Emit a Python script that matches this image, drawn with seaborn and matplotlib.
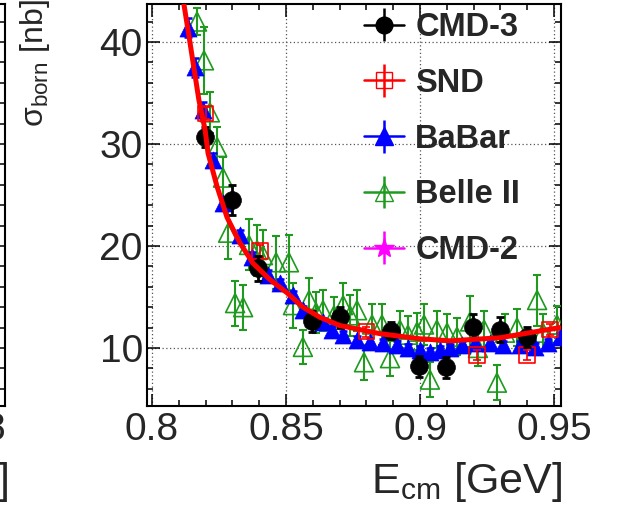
import numpy as np
import pandas as pd
import matplotlib
matplotlib.use("Agg")
import matplotlib.pyplot as plt
import seaborn as sns
from matplotlib.ticker import MultipleLocator, FixedLocator
from matplotlib.font_manager import FontProperties

# ---------------- data ----------------
fit_x = [0.8119, 0.8136, 0.8175, 0.8198, 0.8209, 0.8243, 0.8280, 0.8328, 0.8377,
         0.8440, 0.8504, 0.8563, 0.8627, 0.8701, 0.8851, 0.9000, 0.9112, 0.9299, 0.9522]
fit_y = [43.7, 40.9, 34.3, 31.4, 29.1, 25.8, 22.8, 20.3, 18.3,
         16.7, 15.4, 14.0, 13.0, 12.2, 11.4, 10.9, 10.7, 11.0, 12.0]

cmd3_x = [0.8198, 0.8299, 0.8396, 0.8597, 0.8701, 0.8892, 0.8996, 0.9097, 0.9198, 0.9299, 0.9399]
cmd3_y = [30.7, 24.5, 17.8, 12.6, 13.0, 11.7, 8.2, 8.1, 12.1, 11.8, 11.1]
cmd3_e = [1.0, 1.5, 1.2, 1.0, 1.0, 0.8, 1.0, 1.0, 1.2, 1.2, 1.0]

snd_x = [0.8201, 0.8403, 0.8799, 0.9213, 0.9399, 0.9485]
snd_y = [33.0, 19.5, 11.6, 9.3, 9.3, 11.8]
snd_e = [0.6, 0.6, 0.5, 0.5, 0.5, 0.5]

babar_x = [0.8134, 0.8160, 0.8190, 0.8228, 0.8265, 0.8328, 0.8373, 0.8403, 0.8433, 0.8478,
           0.8526, 0.8563, 0.8601, 0.8638, 0.8672, 0.8713, 0.8765, 0.8813, 0.8862, 0.8914,
           0.8955, 0.9000, 0.9037, 0.9075, 0.9112, 0.9157, 0.9205, 0.9261, 0.9310, 0.9373,
           0.9429, 0.9478, 0.9522]
babar_y = [41.4, 37.5, 33.3, 28.4, 24.2, 21.1, 18.9, 18.0, 17.2, 16.4,
           15.2, 13.7, 12.9, 12.5, 11.8, 11.3, 10.8, 10.6, 10.5, 10.3,
           10.0, 9.8, 9.6, 9.8, 10.0, 10.3, 10.5, 10.5, 10.3, 10.3,
           10.1, 10.5, 11.1]
babar_e = [0.9, 0.9, 0.8, 0.7, 0.6, 0.5, 0.5, 0.4, 0.4, 0.4,
           0.4, 0.4, 0.4, 0.4, 0.4, 0.4, 0.4, 0.4, 0.4, 0.4,
           0.4, 0.4, 0.4, 0.4, 0.4, 0.4, 0.4, 0.4, 0.4, 0.4,
           0.4, 0.4, 0.4]

belle_x = [0.8168, 0.8194, 0.8216, 0.8243, 0.8265, 0.8284, 0.8310, 0.8340, 0.8362, 0.8392,
           0.8414, 0.8463, 0.8511, 0.8526, 0.8563, 0.8586, 0.8612, 0.8638, 0.8679, 0.8713,
           0.8739, 0.8765, 0.8791, 0.8821, 0.8858, 0.8888, 0.8925, 0.8955, 0.8989, 0.9015,
           0.9037, 0.9063, 0.9101, 0.9138, 0.9187, 0.9216, 0.9239, 0.9287, 0.9317, 0.9362,
           0.9437, 0.9459, 0.9511]
belle_y = [42.0, 38.2, 33.1, 29.7, 26.7, 21.3, 14.4, 14.0, 20.1, 19.6,
           19.1, 18.4, 18.4, 14.2, 10.1, 14.7, 13.5, 13.7, 13.2, 14.2,
           13.2, 13.7, 8.6, 12.3, 12.3, 9.0, 11.8, 11.3, 11.6, 12.3,
           6.9, 11.8, 11.5, 11.1, 12.6, 10.0, 11.8, 6.6, 11.5, 12.0,
           14.7, 11.5, 12.3]
belle_e = [1.3, 3.3, 2.0, 2.0, 2.0, 2.6, 2.2, 2.2, 2.5, 2.5,
           2.5, 2.6, 2.7, 2.2, 1.7, 2.2, 2.0, 2.0, 1.8, 2.2,
           2.0, 2.0, 1.7, 2.0, 2.0, 1.7, 1.8, 1.8, 1.8, 2.0,
           1.7, 1.8, 1.8, 1.8, 2.5, 1.8, 1.8, 1.7, 1.8, 1.8,
           2.5, 1.8, 1.8]

cmd2_x = []
cmd2_y = []
cmd2_e = []

# neighbouring (cropped) panel: tail of its fit curve
left_fit_x = [0.7780, 0.7800]
left_fit_y = [9.7, 9.6]

legend_labels = ["CMD-3", "SND", "BaBar", "Belle II", "CMD-2"]
x_major = [0.80, 0.85, 0.90, 0.95]
x_labels = ["0.8", "0.85", "0.9", "0.95"]
y_major = [10, 20, 30, 40]
left_x_major = [0.68, 0.73, 0.78]
left_x_labels = ["0.68", "0.73", "0.78"]

# ---------------- style ----------------
sns.set_style("ticks")
plt.rcParams['font.family'] = ['Liberation Sans', 'DejaVu Sans']
plt.rcParams['mathtext.fontset'] = 'custom'
plt.rcParams['mathtext.rm'] = 'Liberation Sans'
plt.rcParams['mathtext.it'] = 'Liberation Sans:italic'
plt.rcParams['mathtext.bf'] = 'Liberation Sans:bold'

W, H = 623, 513
fig = plt.figure(figsize=(W / 100, H / 100), dpi=100)


def rect(l, t, r, b):
    return [l / W, 1 - b / H, (r - l) / W, (b - t) / H]


ax = fig.add_axes(rect(147, 4, 561, 406))
axl = fig.add_axes(rect(-409, 4, 5, 406))

GREEN = '#1f9a1f'
YLIM = (4.31, 43.72)


def style(a):
    for s in a.spines.values():
        s.set_visible(True)
        s.set_linewidth(1.5)
        s.set_color('black')
    a.set_ylim(*YLIM)
    a.yaxis.set_major_locator(FixedLocator(y_major))
    a.yaxis.set_minor_locator(MultipleLocator(2))
    a.xaxis.set_minor_locator(MultipleLocator(0.01))
    a.tick_params(which='both', direction='in', top=True, right=True,
                  width=1.1, color='black', labelsize=28)
    a.tick_params(axis='x', which='major', pad=4)
    a.tick_params(axis='y', which='major', pad=3)
    a.tick_params(which='major', length=9)
    a.tick_params(which='minor', length=4.5)


style(ax)
style(axl)

ax.set_xlim(0.79813, 0.95261)
ax.set_xticks(x_major)
ax.set_xticklabels(x_labels)
ax.grid(True, which='major', linestyle=(0, (1, 2)), color='#555555', linewidth=0.9)
ax.set_axisbelow(True)

axl.set_xlim(0.6390, 0.7935)
axl.set_xticks(left_x_major)
axl.set_xticklabels(left_x_labels)


def series(x, y, e, color, marker, s, filled, z, elw):
    ax.errorbar(x, y, yerr=e, fmt='none', ecolor=color, elinewidth=elw,
                capsize=3, capthick=elw, zorder=z)
    if len(x):
        df = pd.DataFrame({"x": x, "y": y})
        if filled:
            sns.scatterplot(data=df, x="x", y="y", ax=ax, marker=marker, s=s,
                            color=color, edgecolor=color, linewidth=0.5,
                            zorder=z + 0.5, legend=False)
        else:
            sns.scatterplot(data=df, x="x", y="y", ax=ax, marker=marker, s=s,
                            color=color, facecolors='none', edgecolor=color,
                            linewidth=1.2, zorder=z + 0.5, legend=False)


series(belle_x, belle_y, belle_e, GREEN, '^', 185, False, 3, 1.5)
series(babar_x, babar_y, babar_e, 'blue', '^', 150, True, 4, 1.8)
series(snd_x, snd_y, snd_e, 'red', 's', 120, False, 5, 1.2)
series(cmd3_x, cmd3_y, cmd3_e, 'black', 'o', 165, True, 6, 2.0)
series(cmd2_x, cmd2_y, cmd2_e, 'magenta', '*', 200, True, 6, 1.8)

fit_df = pd.DataFrame({"x": fit_x, "y": fit_y})
sns.lineplot(data=fit_df, x="x", y="y", ax=ax, color='red', linewidth=3.6,
             sort=False, estimator=None, zorder=10)
sns.lineplot(x=left_fit_x, y=left_fit_y, ax=axl, color='red', linewidth=3.6,
             sort=False, estimator=None, zorder=10)

# legend proxies
handles = []
specs = [('black', 'o', 'black', 12), ('red', 's', 'none', 11), ('blue', '^', 'blue', 13),
         (GREEN, '^', 'none', 13), ('magenta', '*', 'magenta', 15)]
for (c, m, fc, ms) in specs:
    h = ax.errorbar([], [], yerr=[], fmt=m + '-', color=c, mfc=fc, mec=c,
                    ms=ms, lw=1.8, elinewidth=1.8, capsize=3.5, capthick=1.8)
    handles.append(h)

leg = ax.legend(handles, legend_labels, loc='upper left',
                bbox_to_anchor=(364 / W, 1 - 12 / H), bbox_transform=fig.transFigure,
                frameon=False, prop=FontProperties(family='Liberation Sans', weight='bold', size=23.5),
                handlelength=1.23, handletextpad=0.34, labelspacing=0.76,
                borderpad=0, borderaxespad=0)
leg.set_zorder(20)

# axis titles
ax.set_xlabel('E$_{\\mathrm{cm}}$ [GeV]', fontsize=31, loc='right')
ax.xaxis.set_label_coords(1.002, -0.135)
ax.set_ylabel('σ$_{\\mathrm{born}}$ [nb]', fontsize=23, loc='top')
ax.yaxis.set_label_coords(-0.229, 1.012)

axl.set_xlabel('E$_{\\mathrm{cm}}$ [GeV]', fontsize=31, loc='right')
axl.xaxis.set_label_coords(1.007, -0.135)
axl.set_ylabel('')

fig.savefig('out.png', dpi=100)
